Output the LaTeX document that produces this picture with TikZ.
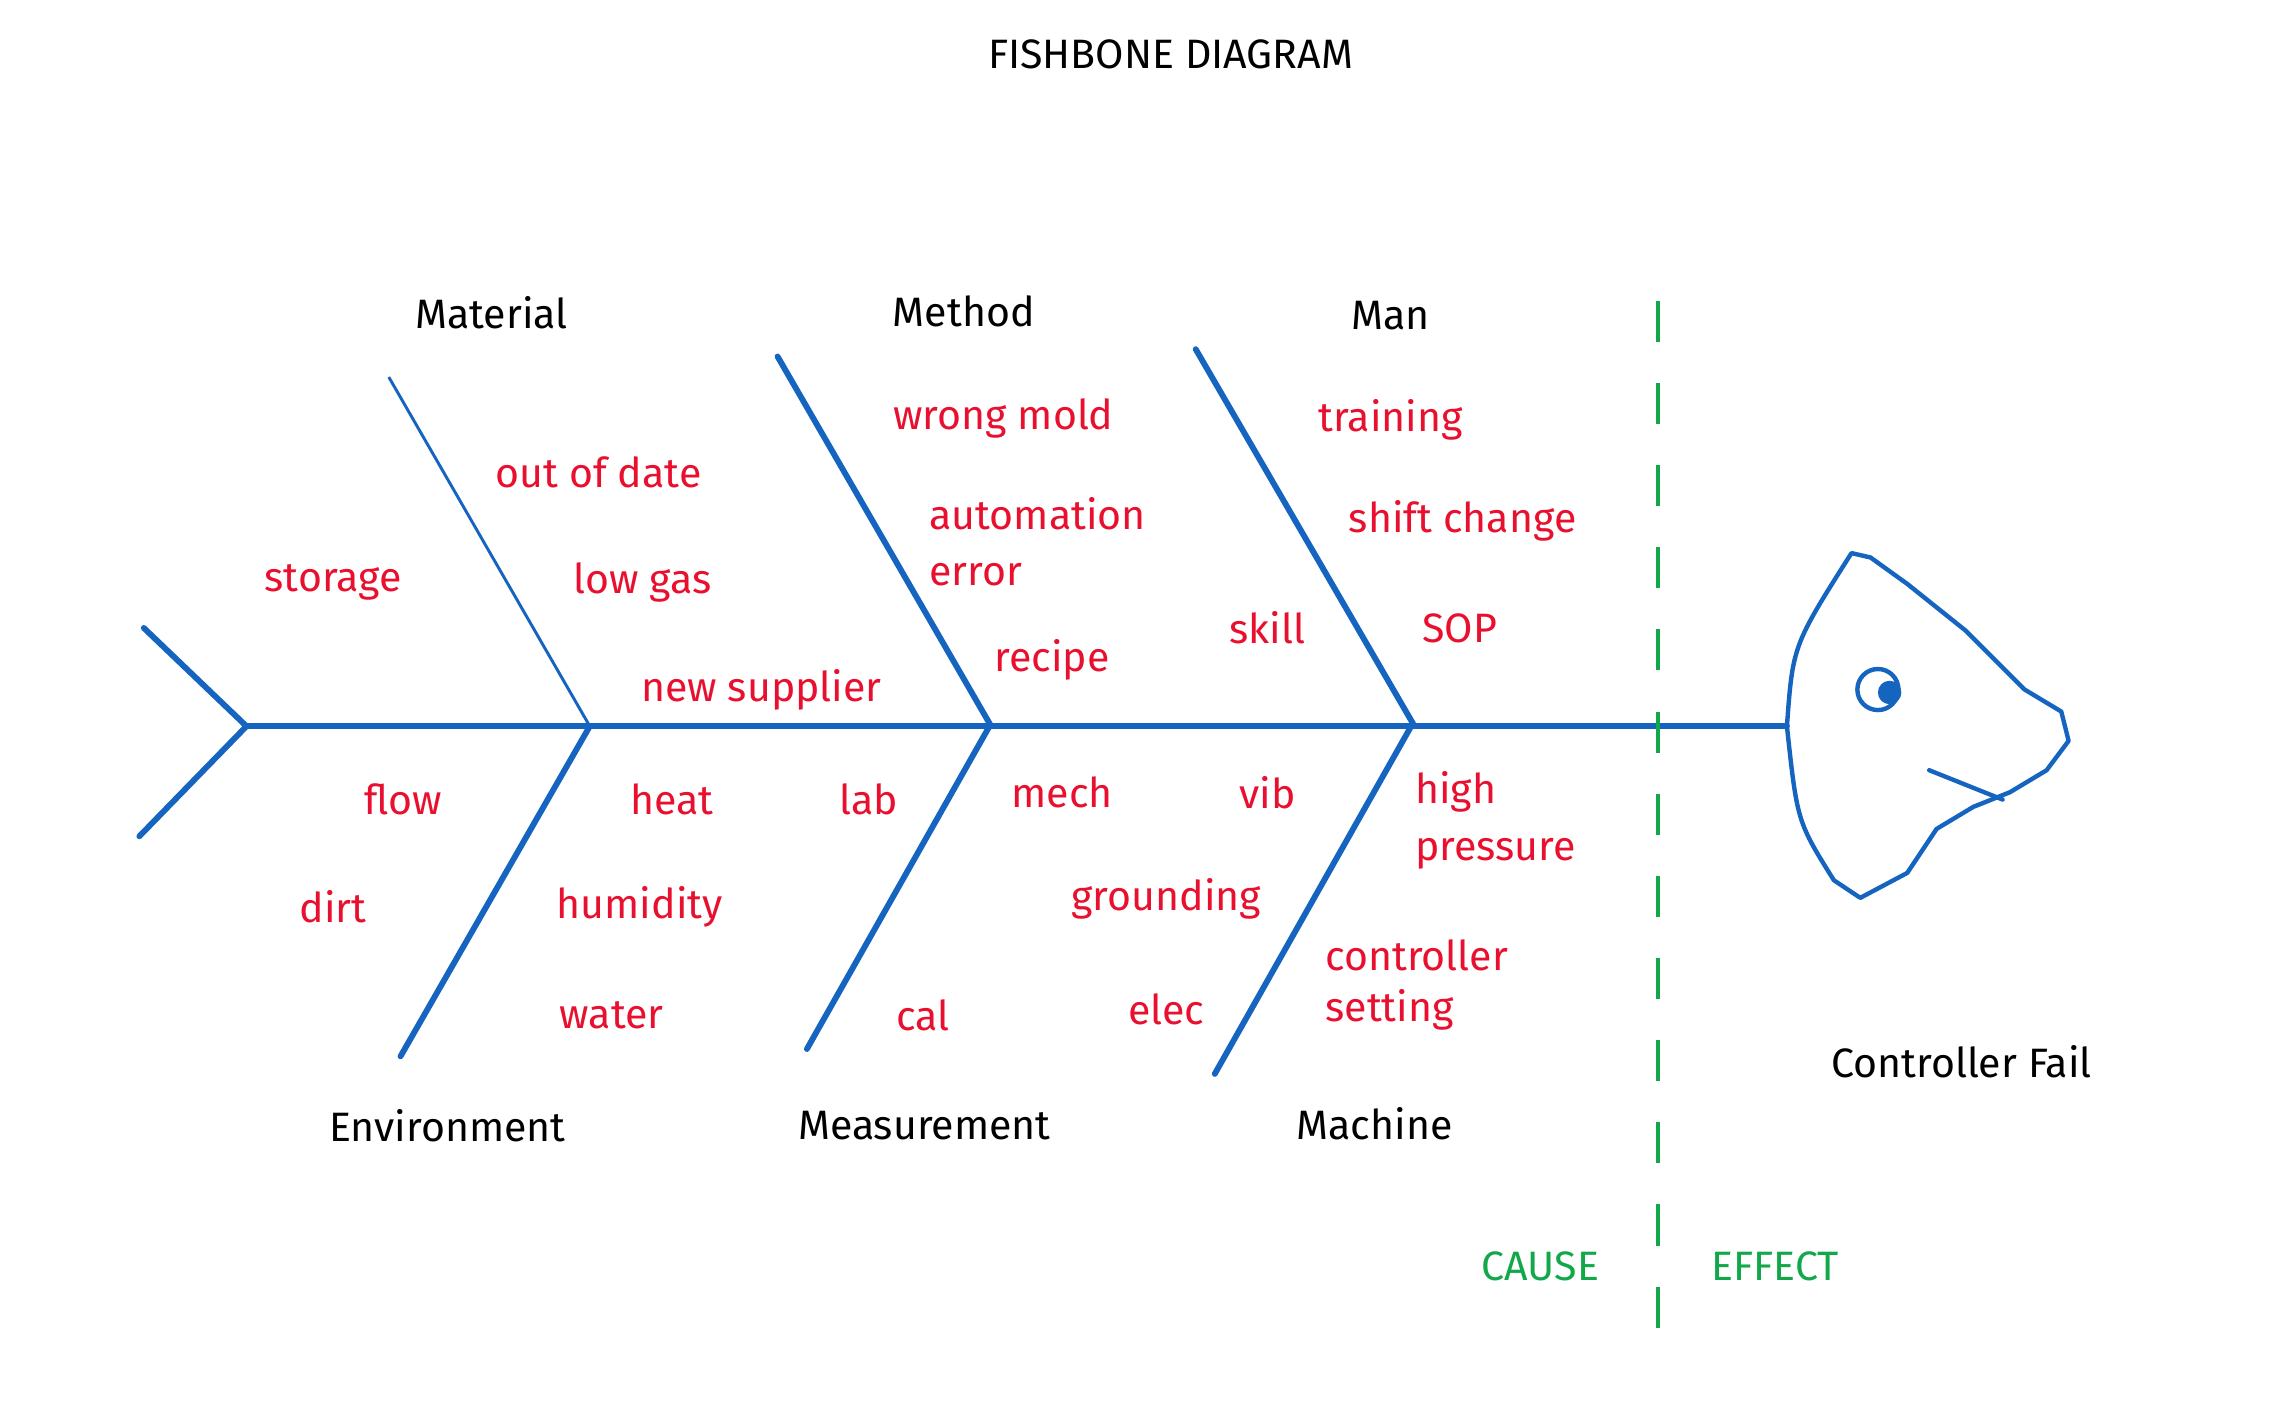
\documentclass[tikz,border=0pt]{standalone}
\usepackage{fontspec}
\setmainfont{Fira Sans}
\definecolor{bone}{HTML}{1565C0}
\definecolor{rd}{HTML}{E8102E}
\definecolor{gr}{HTML}{12A84A}
\begin{document}
\begin{tikzpicture}[x=1pt,y=-1pt,
 bonel/.style={draw=bone,line width=4pt,line cap=round},
 lab/.style={font=\fontsize{28}{32}\selectfont,text=black},
 rl/.style={font=\fontsize{28}{32}\selectfont,text=rd},
 gl/.style={font=\fontsize{28}{32}\selectfont,text=gr}]
\useasboundingbox (0,0) rectangle (1565,960);
\coordinate (t1) at (98,428); \coordinate (t0) at (168,495); \coordinate (t2) at (95,570);
\coordinate (h) at (1218,495);
\coordinate (j1) at (402,495); \coordinate (j2) at (675,494); \coordinate (j3) at (963,493);
\coordinate (b1) at (265,257); \coordinate (b2) at (530,243); \coordinate (b3) at (815,238);
\coordinate (c1) at (273,720); \coordinate (c2) at (550,715); \coordinate (c3) at (828,732);
\draw[bonel] (t1)--(t0)--(t2);
\draw[bonel] (t0)--(h);
\draw[draw=bone,line width=2pt] (b1)--(j1);
\draw[bonel] (b2)--(j2); \draw[bonel] (b3)--(j3);
\draw[bonel] (c1)--(j1); \draw[bonel] (c2)--(j2); \draw[bonel] (c3)--(j3);
\coordinate (d1) at (1130,205); \coordinate (d2) at (1130,930);
\draw[gr,line width=2.5pt,dash pattern=on 28pt off 28pt] (d1)--(d2);
\draw[bone,line width=3pt,line join=round] (1218,495) .. controls (1222,440) .. (1262,377) -- (1275,380) -- (1300,398) -- (1340,430) -- (1380,470) -- (1405,485) -- (1410,505) -- (1395,525) -- (1370,540) -- (1345,550) -- (1320,565) -- (1300,595) -- (1268,612) -- (1250,600) .. controls (1225,560) .. cycle;
\draw[bone,line width=3pt] (1280,470) circle (14);
\fill[bone] (1288,472) circle (8);
\draw[bone,line width=3pt,line cap=round] (1315,525)--(1365,545);
\node[lab] (title) at (798,37) {FISHBONE DIAGRAM};
\node[lab] (mat) at (335,213) {Material};
\node[lab] (met) at (657,212) {Method};
\node[lab] (man) at (948,215) {Man};
\node[lab] (env) at (305,767) {Environment};
\node[lab] (mea) at (630,767) {Measurement};
\node[lab] (mac) at (937,766) {Machine};
\node[lab] (cf) at (1337,724) {Controller Fail};
\node[rl] at (408,322) {out of date};
\node[rl] at (227,397) {storage};
\node[rl] at (438,397) {low gas};
\node[rl] at (519,470) {new supplier};
\node[rl] at (684,285) {wrong mold};
\node[rl,anchor=west] at (630,350) {automation};
\node[rl,anchor=west] at (630,392) {error};
\node[rl] at (717,450) {recipe};
\node[rl] at (948,286) {training};
\node[rl] at (997,355) {shift change};
\node[rl] at (864,428) {skill};
\node[rl] at (995,428) {SOP};
\node[rl] at (275,545) {flow};
\node[rl] at (458,545) {heat};
\node[rl] at (592,545) {lab};
\node[rl] at (724,540) {mech};
\node[rl] at (864,540) {vib};
\node[rl,anchor=west] at (961,540) {high};
\node[rl,anchor=west] at (961,582) {pressure};
\node[rl] at (227,618) {dirt};
\node[rl] at (436,618) {humidity};
\node[rl] at (417,692) {water};
\node[rl] at (795,613) {grounding};
\node[rl] at (629,692) {cal};
\node[rl] at (795,688) {elec};
\node[rl,anchor=west] at (900,651) {controller};
\node[rl,anchor=west] at (900,688) {setting};
\node[gl] at (1050,863) {CAUSE};
\node[gl] at (1210,863) {EFFECT};
\end{tikzpicture}
\end{document}
